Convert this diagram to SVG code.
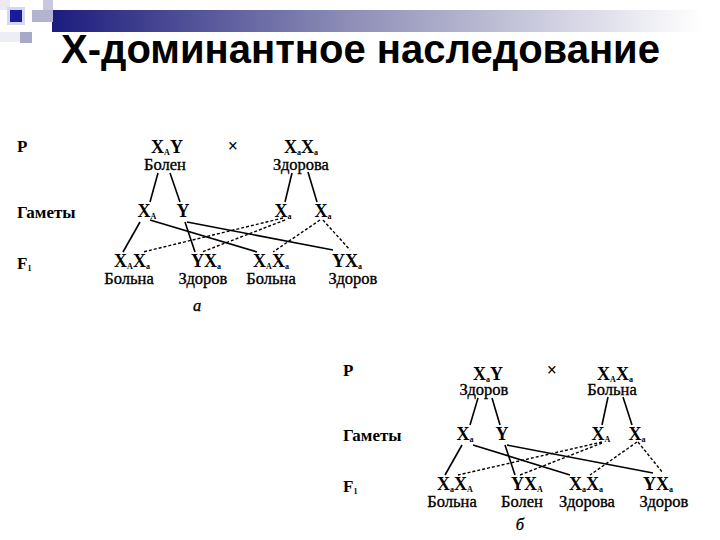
<svg xmlns="http://www.w3.org/2000/svg" width="720" height="540" viewBox="0 0 720 540">
<defs>
<linearGradient id="bar" x1="0" y1="0" x2="1" y2="0">
<stop offset="0" stop-color="#1c1c7e"/>
<stop offset="0.45" stop-color="#8c8cb6"/>
<stop offset="1" stop-color="#ffffff"/>
</linearGradient>
<style>
.sym{font-family:"Liberation Serif",serif;font-weight:bold;font-size:18px;fill:#000;text-anchor:middle}
.sub{font-size:8px}
.lab{font-family:"Liberation Serif",serif;font-size:16.5px;fill:#000;stroke:#000;stroke-width:0.35;text-anchor:middle}
.row{font-family:"Liberation Serif",serif;font-weight:bold;font-size:17px;fill:#000}
.ln{stroke:#000;stroke-width:1.6;fill:none}
.ds{stroke:#000;stroke-width:1.4;fill:none;stroke-dasharray:3 2}
.title{font-family:"Liberation Sans",Arial,sans-serif;font-weight:bold;font-size:40px;fill:#000}
</style>
</defs>
<rect width="720" height="540" fill="#fff"/>
<g id="header">
<rect x="52" y="10" width="650" height="22" fill="url(#bar)"/>
<rect x="0" y="0" width="10" height="10" fill="#eaeaf4"/>
<rect x="43" y="0" width="10" height="10" fill="#c8c8e0"/>
<rect x="32" y="10" width="21" height="12" fill="#b4b4d2"/>
<rect x="7" y="7" width="18" height="18" fill="#d8d8ec"/>
<rect x="10" y="10" width="12" height="12" fill="#1a1a9e"/>
<rect x="0" y="32" width="20" height="10" fill="#ededf5"/>
<rect x="20" y="32" width="12" height="11" fill="#a8a8c8"/>
<text class="title" x="61" y="63" textLength="599" lengthAdjust="spacingAndGlyphs">X-доминантное наследование</text>
</g>
<g id="connectors">
<line class="ln" x1="158" y1="173" x2="150" y2="202"/>
<line class="ln" x1="170" y1="173" x2="180" y2="202"/>
<line class="ln" x1="292" y1="173" x2="285" y2="202"/>
<line class="ln" x1="308" y1="172" x2="317" y2="202"/>
<line class="ln" x1="140" y1="222" x2="123" y2="252"/>
<line class="ln" x1="150" y1="220" x2="257" y2="252"/>
<line class="ln" x1="185" y1="222" x2="195" y2="252"/>
<line class="ln" x1="187" y1="222" x2="333" y2="250"/>
<line class="ds" x1="283" y1="218" x2="143" y2="252"/>
<line class="ds" x1="285" y1="220" x2="202" y2="252"/>
<line class="ds" x1="320" y1="220" x2="273" y2="252"/>
<line class="ds" x1="323" y1="220" x2="350" y2="250"/>
<line class="ln" x1="478" y1="398" x2="470" y2="425"/>
<line class="ln" x1="492" y1="398" x2="500" y2="425"/>
<line class="ln" x1="608" y1="397" x2="602" y2="425"/>
<line class="ln" x1="623" y1="397" x2="632" y2="425"/>
<line class="ln" x1="462" y1="445" x2="445" y2="475"/>
<line class="ln" x1="473" y1="445" x2="570" y2="475"/>
<line class="ln" x1="505" y1="445" x2="515" y2="475"/>
<line class="ln" x1="507" y1="445" x2="653" y2="473"/>
<line class="ds" x1="602" y1="442" x2="458" y2="475"/>
<line class="ds" x1="602" y1="443" x2="520" y2="475"/>
<line class="ds" x1="637" y1="442" x2="590" y2="475"/>
<line class="ds" x1="638" y1="442" x2="663" y2="473"/>
</g>
<g id="diagram-a">
<g id="a-rows">
<text class="row" x="17" y="152">P</text>
<text class="row" x="17" y="218">Гаметы</text>
<text class="row" x="17" y="269">F<tspan class="sub" dy="2">1</tspan></text>
</g>
<g id="a-father"><text class="sym" x="167" y="153">X<tspan class="sub" dy="2">A</tspan><tspan dy="-2">Y</tspan></text><text class="lab" x="165" y="170">Болен</text></g>
<g id="a-cross"><text class="sym" x="233" y="152" font-size="15">×</text></g>
<g id="a-mother"><text class="sym" x="301" y="153">X<tspan class="sub" dy="2">a</tspan><tspan dy="-2">X</tspan><tspan class="sub" dy="2">a</tspan></text><text class="lab" x="301" y="170">Здорова</text></g>
<g id="a-g1"><text class="sym" x="147" y="217">X<tspan class="sub" dy="2">A</tspan></text></g>
<g id="a-g2"><text class="sym" x="183" y="217">Y</text></g>
<g id="a-g3"><text class="sym" x="283" y="217">X<tspan class="sub" dy="2">a</tspan></text></g>
<g id="a-g4"><text class="sym" x="323" y="217">X<tspan class="sub" dy="2">a</tspan></text></g>
<g id="a-f1"><text class="sym" x="132" y="267">X<tspan class="sub" dy="2">A</tspan><tspan dy="-2">X</tspan><tspan class="sub" dy="2">a</tspan></text><text class="lab" x="129" y="284">Больна</text></g>
<g id="a-f2"><text class="sym" x="206" y="267">YX<tspan class="sub" dy="2">a</tspan></text><text class="lab" x="203" y="284">Здоров</text></g>
<g id="a-f3"><text class="sym" x="271" y="267">X<tspan class="sub" dy="2">A</tspan><tspan dy="-2">X</tspan><tspan class="sub" dy="2">a</tspan></text><text class="lab" x="271" y="284">Больна</text></g>
<g id="a-f4"><text class="sym" x="347" y="267">YX<tspan class="sub" dy="2">a</tspan></text><text class="lab" x="353" y="284">Здоров</text></g>
<text class="lab" x="197" y="311" font-style="italic">а</text>
</g>
<g id="diagram-b">
<g id="b-rows">
<text class="row" x="343" y="376">P</text>
<text class="row" x="343" y="441">Гаметы</text>
<text class="row" x="343" y="492">F<tspan class="sub" dy="2">1</tspan></text>
</g>
<g id="b-father"><text class="sym" x="488" y="380">X<tspan class="sub" dy="2">a</tspan><tspan dy="-2">Y</tspan></text><text class="lab" x="484" y="395">Здоров</text></g>
<g id="b-cross"><text class="sym" x="552" y="376" font-size="15">×</text></g>
<g id="b-mother"><text class="sym" x="615" y="380">X<tspan class="sub" dy="2">A</tspan><tspan dy="-2">X</tspan><tspan class="sub" dy="2">a</tspan></text><text class="lab" x="612" y="395">Больна</text></g>
<g id="b-g1"><text class="sym" x="465" y="440">X<tspan class="sub" dy="2">a</tspan></text></g>
<g id="b-g2"><text class="sym" x="502" y="440">Y</text></g>
<g id="b-g3"><text class="sym" x="601" y="440">X<tspan class="sub" dy="2">A</tspan></text></g>
<g id="b-g4"><text class="sym" x="637" y="440">X<tspan class="sub" dy="2">a</tspan></text></g>
<g id="b-f1"><text class="sym" x="455" y="490">X<tspan class="sub" dy="2">a</tspan><tspan dy="-2">X</tspan><tspan class="sub" dy="2">A</tspan></text><text class="lab" x="452" y="507">Больна</text></g>
<g id="b-f2"><text class="sym" x="527" y="490">YX<tspan class="sub" dy="2">A</tspan></text><text class="lab" x="522" y="507">Болен</text></g>
<g id="b-f3"><text class="sym" x="586" y="490">X<tspan class="sub" dy="2">a</tspan><tspan dy="-2">X</tspan><tspan class="sub" dy="2">a</tspan></text><text class="lab" x="587" y="507">Здорова</text></g>
<g id="b-f4"><text class="sym" x="658" y="490">YX<tspan class="sub" dy="2">a</tspan></text><text class="lab" x="664" y="507">Здоров</text></g>
<text class="lab" x="520" y="530" font-style="italic">б</text>
</g>
</svg>
